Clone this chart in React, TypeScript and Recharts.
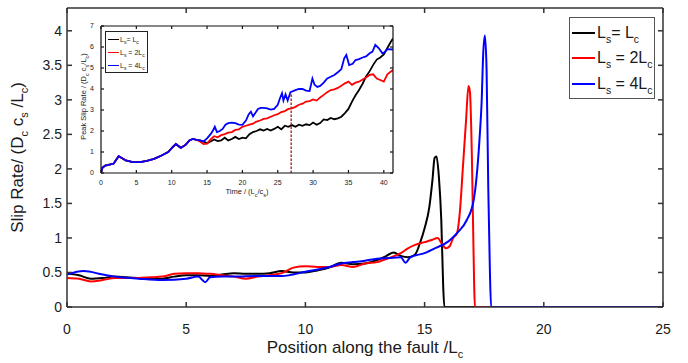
import React from 'react';
import { LineChart, Line, XAxis, YAxis, Legend, ReferenceLine, Label } from 'recharts';

const FONT = '"Liberation Sans", Arial, Helvetica, sans-serif';
const AXIS = '#333333';
const TEXT = '#1a1a1a';

const BLACK = '#000000';
const RED = '#ff0000';
const BLUE = '#0000ff';

// ---- Slip-rate profile along the fault (main panel) ----
const posLsLc = [0, 0.5, 1, 1.5, 2, 2.5, 3, 3.5, 4, 4.5, 5, 5.5, 6, 6.5, 7, 7.5, 8, 8.5, 9, 9.5, 10, 10.5, 11, 11.5, 12, 12.5, 13, 13.4, 13.7, 14, 14.3, 14.6, 14.8, 15, 15.2, 15.33, 15.42, 15.5, 15.6, 15.7, 15.78, 15.83, 25];
const rateLsLc = [0.48, 0.46, 0.41, 0.42, 0.44, 0.43, 0.42, 0.41, 0.41, 0.44, 0.46, 0.46, 0.45, 0.47, 0.49, 0.48, 0.48, 0.49, 0.52, 0.5, 0.5, 0.53, 0.57, 0.64, 0.62, 0.63, 0.68, 0.74, 0.79, 0.74, 0.72, 0.76, 0.92, 1.14, 1.45, 1.84, 2.16, 2.18, 1.88, 1.26, 0.3, 0, 0];

const posLs2Lc = [0, 0.5, 1, 1.5, 2, 2.5, 3, 3.5, 4, 4.5, 5, 5.5, 6, 6.5, 7, 7.5, 8, 8.5, 9, 9.5, 10, 10.5, 11, 11.5, 12, 12.5, 13, 13.5, 14, 14.3, 14.6, 15, 15.3, 15.55, 15.7, 15.9, 16.05, 16.2, 16.36, 16.48, 16.6, 16.74, 16.84, 16.9, 16.98, 17.03, 17.08, 17.11, 25];
const rateLs2Lc = [0.42, 0.41, 0.37, 0.39, 0.42, 0.42, 0.42, 0.43, 0.44, 0.48, 0.49, 0.49, 0.48, 0.46, 0.44, 0.41, 0.44, 0.46, 0.49, 0.57, 0.59, 0.58, 0.58, 0.61, 0.58, 0.63, 0.65, 0.71, 0.78, 0.85, 0.9, 0.94, 0.97, 1.0, 0.93, 0.85, 0.88, 1.0, 1.07, 1.38, 1.99, 2.71, 3.2, 3.12, 2.23, 1.26, 0.3, 0, 0];

const posLs4Lc = [0, 0.7, 1.5, 2, 3, 4, 5, 5.5, 5.8, 6, 6.5, 7, 8, 9, 10, 11, 11.5, 12, 12.5, 13, 13.5, 14, 14.2, 14.4, 15, 15.5, 16, 16.36, 16.77, 17.06, 17.18, 17.32, 17.39, 17.46, 17.53, 17.6, 17.67, 17.74, 17.79, 25];
const rateLs4Lc = [0.47, 0.52, 0.47, 0.44, 0.41, 0.39, 0.41, 0.44, 0.36, 0.43, 0.44, 0.44, 0.45, 0.45, 0.51, 0.58, 0.63, 0.65, 0.67, 0.7, 0.71, 0.72, 0.64, 0.72, 0.78, 0.86, 0.95, 1.07, 1.26, 1.55, 1.88, 2.52, 2.95, 3.68, 3.93, 3.43, 1.74, 0.5, 0, 0];

const positionTicks = [0, 5, 10, 15, 20, 25];
const rateTicks = [0, 0.5, 1, 1.5, 2, 2.5, 3, 3.5, 4];

// ---- Peak slip rate through time (inset) ----
const timeShared = [0, 0.2, 0.6, 1.2, 1.8, 2.2, 2.5, 3, 3.5, 4.5, 5.5, 6.5, 7.5, 8.5, 9.5, 10.2, 10.6, 10.9, 11.3, 12, 12.5, 13, 13.5];
const peakShared = [0, 0.25, 0.35, 0.4, 0.45, 0.65, 0.8, 0.7, 0.6, 0.52, 0.52, 0.58, 0.67, 0.82, 1.0, 1.25, 1.38, 1.3, 1.2, 1.35, 1.55, 1.62, 1.58];

const timeLsLc = [14, 14.5, 15, 15.5, 16, 16.5, 17, 17.5, 18, 18.5, 19, 19.5, 20, 20.5, 21, 21.5, 22, 22.5, 23, 23.5, 24, 24.5, 25, 25.5, 26, 26.5, 27, 27.5, 28, 28.5, 29, 29.5, 30, 30.5, 31, 31.5, 32, 32.5, 33, 33.5, 34, 34.5, 35, 35.5, 36, 36.5, 37, 37.5, 38, 38.5, 39, 39.5, 40, 40.5, 41, 41.3];
const peakLsLc = [1.55, 1.5, 1.42, 1.5, 1.6, 1.52, 1.55, 1.68, 1.55, 1.62, 1.72, 1.62, 1.68, 1.65, 1.85, 1.95, 2.0, 2.08, 2.02, 2.1, 2.02, 2.1, 2.2, 2.08, 2.25, 2.2, 2.28, 2.2, 2.3, 2.25, 2.32, 2.28, 2.4, 2.3, 2.38, 2.55, 2.52, 2.62, 2.56, 2.6, 2.68, 2.85, 3.05, 3.4, 3.7, 3.95, 4.25, 4.6, 4.85, 5.15, 5.4, 5.5, 5.65, 5.95, 6.25, 6.4];

const timeLs2Lc = [14, 14.5, 15, 15.5, 16, 16.5, 17, 17.5, 18, 18.5, 19, 19.5, 20, 20.5, 21, 21.5, 22, 22.5, 23, 23.5, 24, 24.5, 25, 25.5, 26, 26.5, 27, 27.5, 28, 28.5, 29, 29.5, 30, 30.5, 31, 31.5, 32, 32.5, 33, 33.5, 34, 34.5, 35, 35.5, 36, 36.5, 37, 37.5, 38, 38.5, 39, 39.5, 40, 40.5, 41, 41.3];
const peakLs2Lc = [1.5, 1.38, 1.4, 1.6, 1.75, 1.7, 1.8, 1.85, 1.92, 1.95, 2.05, 2.08, 2.2, 2.25, 2.3, 2.35, 2.45, 2.5, 2.58, 2.6, 2.68, 2.75, 2.8, 2.9, 2.95, 3.05, 3.08, 3.15, 3.25, 3.3, 3.4, 3.42, 3.5, 3.45, 3.6, 3.72, 3.85, 3.95, 3.98, 4.05, 4.15, 4.27, 4.35, 4.2, 4.3, 4.35, 4.45, 4.55, 4.67, 4.7, 4.5, 4.43, 4.35, 4.7, 4.83, 4.9];

const timeLs4Lc = [14, 14.5, 15, 15.5, 15.8, 16.1, 16.4, 16.8, 17.2, 17.6, 18, 18.5, 19, 19.5, 20, 20.5, 20.9, 21.2, 21.5, 21.8, 22.2, 22.6, 23, 23.5, 24, 24.5, 25, 25.3, 25.6, 25.8, 26.1, 26.4, 26.8, 27.5, 28, 28.5, 29, 29.5, 29.9, 30.2, 30.6, 31, 31.5, 32, 32.5, 33, 33.5, 34, 34.4, 34.7, 35.1, 35.6, 36, 36.5, 37, 37.5, 38, 38.4, 38.8, 39.3, 39.8, 40.1, 40.5, 41.3];
const peakLs4Lc = [1.55, 1.5, 1.65, 1.85, 2.0, 2.2, 1.95, 2.0, 2.1, 2.3, 2.37, 2.4, 2.37, 2.3, 2.29, 2.5, 2.8, 2.92, 2.7, 2.85, 3.05, 3.1, 3.1, 3.08, 3.02, 3.05, 3.25, 3.55, 3.8, 3.45, 3.75, 3.45, 3.85, 3.95, 4.0, 4.0, 3.92, 3.9, 4.5, 4.2, 4.1, 4.15, 4.3, 4.5, 4.58, 4.67, 4.8, 4.95, 5.46, 5.62, 5.14, 5.2, 5.38, 5.42, 5.5, 5.55, 5.7, 5.78, 6.1, 5.94, 5.7, 5.75, 5.9, 5.88];

const timeTicks = [0, 5, 10, 15, 20, 25, 30, 35, 40];
const peakTicks = [0, 1, 2, 3, 4, 5, 6, 7];
const markerTime = 26.9;
const markerPeak = 3.8;

const zip = (xs: number[], ys: number[]) => xs.map((x, i) => ({ x, y: ys[i] }));

const profileLsLc = zip(posLsLc, rateLsLc);
const profileLs2Lc = zip(posLs2Lc, rateLs2Lc);
const profileLs4Lc = zip(posLs4Lc, rateLs4Lc);

const historyLsLc = zip([...timeShared, ...timeLsLc], [...peakShared, ...peakLsLc]);
const historyLs2Lc = zip([...timeShared, ...timeLs2Lc], [...peakShared, ...peakLs2Lc]);
const historyLs4Lc = zip([...timeShared, ...timeLs4Lc], [...peakShared, ...peakLs4Lc]);

// legend entries: colour, multiplier of L_c, spacing before "="
const legendEntries: { color: string; factor: string; spaced: boolean }[] = [
  { color: BLACK, factor: '', spaced: false },
  { color: RED, factor: '2', spaced: true },
  { color: BLUE, factor: '4', spaced: true },
];

const Sub = ({ children, size, drop }: { children: React.ReactNode; size: number; drop: number }) => (
  <span style={{ fontSize: size, position: 'relative', top: drop }}>{children}</span>
);

const makeLegend = (opts: {
  width: number; height: number; rowH: number; padTop: number; lineW: number; lineH: number;
  fontSize: number; subSize: number; subDrop: number; gap: number; borderColor: string;
}) => () => (
  <div
    style={{
      width: opts.width,
      height: opts.height,
      boxSizing: 'border-box',
      border: `1px solid ${opts.borderColor}`,
      background: '#ffffff',
      paddingTop: opts.padTop,
      fontFamily: FONT,
      color: TEXT,
    }}
  >
    {legendEntries.map((e) => (
      <div key={e.color} style={{ height: opts.rowH, display: 'flex', alignItems: 'center', whiteSpace: 'nowrap' }}>
        <span style={{ display: 'inline-block', marginLeft: opts.gap, width: opts.lineW, height: opts.lineH, background: e.color }} />
        <span style={{ marginLeft: opts.gap, fontSize: opts.fontSize, lineHeight: 1 }}>
          L<Sub size={opts.subSize} drop={opts.subDrop}>s</Sub>
          {e.spaced ? ' = ' : '= '}
          {e.factor}L<Sub size={opts.subSize} drop={opts.subDrop}>c</Sub>
        </span>
      </div>
    ))}
  </div>
);

const MainLegend = makeLegend({
  width: 86, height: 82, rowH: 25.5, padTop: 2, lineW: 23, lineH: 2.2,
  fontSize: 16, subSize: 10.5, subDrop: 5, gap: 2, borderColor: '#555555',
});

const InsetLegend = makeLegend({
  width: 43, height: 42, rowH: 13, padTop: 1, lineW: 11, lineH: 1.2,
  fontSize: 7, subSize: 5, subDrop: 2, gap: 1.5, borderColor: '#222222',
});

const MainYLabel = (props: any) => {
  const vb = props.viewBox;
  const cx = vb.x + 23;
  const cy = vb.y + vb.height / 2;
  return (
    <text transform={`translate(${cx},${cy}) rotate(-90)`} textAnchor="middle" fontFamily={FONT} fontSize={17} fill={TEXT}>
      Slip Rate/ (D<tspan dy={5} fontSize={11}>c</tspan>
      <tspan dy={-5}> c</tspan>
      <tspan dy={5} fontSize={11}>s</tspan>
      <tspan dy={-5}> /L</tspan>
      <tspan dy={5} fontSize={11}>c</tspan>
      <tspan dy={-5}>)</tspan>
    </text>
  );
};

const MainXLabel = (props: any) => {
  const vb = props.viewBox;
  const cx = vb.x + vb.width / 2;
  return (
    <text x={cx} y={vb.y + 46} textAnchor="middle" fontFamily={FONT} fontSize={17} fill={TEXT}>
      Position along the fault /L<tspan dy={5} fontSize={11}>c</tspan>
    </text>
  );
};

const InsetYLabel = (props: any) => {
  const vb = props.viewBox;
  const cx = vb.x + 16;
  const cy = vb.y + vb.height / 2 - 3;
  return (
    <text transform={`translate(${cx},${cy}) rotate(-90)`} textAnchor="middle" fontFamily={FONT} fontSize={7.5} fill={TEXT}>
      Peak Slip Rate / (D<tspan dy={2.5} fontSize={5.5}>c</tspan>
      <tspan dy={-2.5}> c</tspan>
      <tspan dy={2.5} fontSize={5.5}>s</tspan>
      <tspan dy={-2.5}>/L</tspan>
      <tspan dy={2.5} fontSize={5.5}>c</tspan>
      <tspan dy={-2.5}>)</tspan>
    </text>
  );
};

const InsetXLabel = (props: any) => {
  const vb = props.viewBox;
  const cx = vb.x + vb.width / 2;
  return (
    <text x={cx} y={vb.y + 21} textAnchor="middle" fontFamily={FONT} fontSize={7.5} fill={TEXT}>
      Time / (L<tspan dy={2.5} fontSize={5.5}>c</tspan>
      <tspan dy={-2.5}>/c</tspan>
      <tspan dy={2.5} fontSize={5.5}>s</tspan>
      <tspan dy={-2.5}>)</tspan>
    </text>
  );
};

const blank = () => '';

export default function App() {
  const mainTick = { fontSize: 14, fill: TEXT, fontFamily: FONT };
  const insetTick = { fontSize: 7, fill: TEXT, fontFamily: FONT };
  return (
    <div style={{ position: 'absolute', left: 0, top: 0, width: 688, height: 363, background: '#ffffff' }}>
      <div style={{ position: 'absolute', left: 0, top: 0 }}>
        <LineChart width={688} height={363} margin={{ top: 7, right: 24, bottom: 0, left: 0 }}>
          <XAxis
            xAxisId="bottom"
            type="number"
            dataKey="x"
            domain={[0, 25]}
            ticks={positionTicks}
            height={56}
            tickSize={-5}
            tickMargin={22}
            stroke={AXIS}
            strokeWidth={1.5}
            tick={mainTick}
            allowDataOverflow
          >
            <Label content={MainXLabel} />
          </XAxis>
          <XAxis
            xAxisId="top"
            orientation="top"
            type="number"
            dataKey="x"
            domain={[0, 25]}
            ticks={positionTicks}
            height={1}
            tickSize={-5}
            tickFormatter={blank}
            stroke={AXIS}
            strokeWidth={1.5}
            allowDataOverflow
          />
          <YAxis
            yAxisId="left"
            type="number"
            domain={[0, 4.33]}
            ticks={rateTicks}
            width={67}
            tickSize={-5}
            tickMargin={10}
            stroke={AXIS}
            strokeWidth={1.5}
            tick={mainTick}
            allowDataOverflow
          >
            <Label content={MainYLabel} />
          </YAxis>
          <YAxis
            yAxisId="right"
            orientation="right"
            type="number"
            domain={[0, 4.33]}
            ticks={rateTicks}
            width={1}
            tickSize={-5}
            tickFormatter={blank}
            stroke={AXIS}
            strokeWidth={1.5}
            allowDataOverflow
          />
          <Line xAxisId="bottom" yAxisId="left" data={profileLsLc} dataKey="y" type="monotone" stroke={BLACK} strokeWidth={2} dot={false} isAnimationActive={false} name="Ls = Lc" />
          <Line xAxisId="bottom" yAxisId="left" data={profileLs2Lc} dataKey="y" type="monotone" stroke={RED} strokeWidth={2} dot={false} isAnimationActive={false} name="Ls = 2Lc" />
          <Line xAxisId="bottom" yAxisId="left" data={profileLs4Lc} dataKey="y" type="monotone" stroke={BLUE} strokeWidth={2} dot={false} isAnimationActive={false} name="Ls = 4Lc" />
          <Line xAxisId="top" yAxisId="right" data={profileLs4Lc} dataKey="y" stroke="none" dot={false} activeDot={false} legendType="none" isAnimationActive={false} />
          <Legend
            content={MainLegend}
            layout="horizontal"
            align="center"
            verticalAlign="middle"
            wrapperStyle={{ left: 569, top: 17, width: 86, height: 82 }}
          />
        </LineChart>
      </div>

      <div style={{ position: 'absolute', left: 70, top: 18 }}>
        <LineChart width={330} height={190} margin={{ top: 7, right: 6, bottom: 0, left: 0 }}>
          <XAxis
            xAxisId="bottom"
            type="number"
            dataKey="x"
            domain={[0, 41.3]}
            ticks={timeTicks}
            height={35}
            tickSize={-3}
            tickMargin={10}
            stroke="#111111"
            strokeWidth={1.2}
            tick={insetTick}
            allowDataOverflow
          >
            <Label content={InsetXLabel} />
          </XAxis>
          <XAxis
            xAxisId="top"
            orientation="top"
            type="number"
            dataKey="x"
            domain={[0, 41.3]}
            ticks={timeTicks}
            height={1}
            tickSize={-3}
            tickFormatter={blank}
            stroke="#111111"
            strokeWidth={1.2}
            allowDataOverflow
          />
          <YAxis
            yAxisId="left"
            type="number"
            domain={[0, 7]}
            ticks={peakTicks}
            width={31}
            tickSize={-3}
            tickMargin={10}
            stroke="#111111"
            strokeWidth={1.2}
            tick={insetTick}
            allowDataOverflow
          >
            <Label content={InsetYLabel} />
          </YAxis>
          <YAxis
            yAxisId="right"
            orientation="right"
            type="number"
            domain={[0, 7]}
            ticks={peakTicks}
            width={1}
            tickSize={-3}
            tickFormatter={blank}
            stroke="#111111"
            strokeWidth={1.2}
            allowDataOverflow
          />
          <Line xAxisId="bottom" yAxisId="left" data={historyLsLc} dataKey="y" type="linear" stroke={BLACK} strokeWidth={1.8} dot={false} isAnimationActive={false} />
          <Line xAxisId="bottom" yAxisId="left" data={historyLs2Lc} dataKey="y" type="linear" stroke={RED} strokeWidth={1.8} dot={false} isAnimationActive={false} />
          <Line xAxisId="bottom" yAxisId="left" data={historyLs4Lc} dataKey="y" type="linear" stroke={BLUE} strokeWidth={1.8} dot={false} isAnimationActive={false} />
          <Line xAxisId="top" yAxisId="right" data={historyLs4Lc} dataKey="y" stroke="none" dot={false} activeDot={false} legendType="none" isAnimationActive={false} />
          <ReferenceLine
            xAxisId="bottom"
            yAxisId="left"
            segment={[{ x: markerTime, y: 0 }, { x: markerTime, y: markerPeak }]}
            stroke="#a3262a"
            strokeWidth={1.4}
            strokeDasharray="2.5 1.5"
          />
          <Legend
            content={InsetLegend}
            layout="horizontal"
            align="center"
            verticalAlign="middle"
            wrapperStyle={{ left: 35, top: 13, width: 43, height: 42 }}
          />
        </LineChart>
      </div>
    </div>
  );
}
